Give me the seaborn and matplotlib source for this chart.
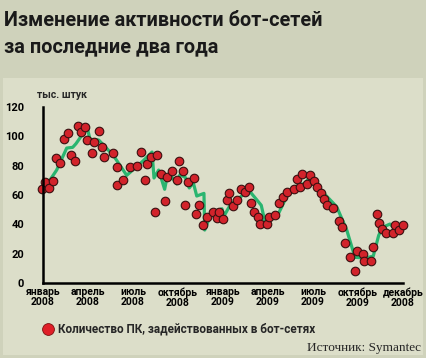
import warnings

warnings.filterwarnings('ignore')

import pandas as pd
import matplotlib
matplotlib.use('Agg')
import matplotlib.pyplot as plt
from matplotlib.patches import Rectangle
from matplotlib.lines import Line2D
import seaborn as sns

# %%
# Points: months since January 2008, thousands of PCs
pc_month = [-0.05, 0.15, 0.42, 0.69, 0.87, 1.13, 1.4, 1.67, 1.85, 2.11,
            2.33, 2.51, 2.78, 2.95, 3.27, 3.4, 3.71, 3.93, 4.07, 4.69,
            4.91, 4.95, 5.31, 5.8, 6.25, 6.55, 6.78, 6.95, 7.18, 7.45,
            7.58, 7.85, 8.11, 8.29, 8.6, 8.91, 9.05, 9.31, 9.49, 9.67,
            10.07, 10.42, 10.2, 10.69, 10.91, 11.35, 11.58, 11.71, 12.02, 12.29,
            12.42, 12.69, 12.91, 13.18, 13.49, 13.75, 13.89, 14.07, 14.33, 14.47,
            14.91, 15.09, 15.49, 15.71, 15.98, 16.29, 16.73, 16.91, 17.13, 17.27,
            17.58, 17.8, 18.07, 18.25, 18.51, 18.73, 18.95, 19.35, 19.71, 19.93,
            20.15, 20.47, 20.91, 20.82, 21.31, 21.4, 21.85, 22.02, 22.25, 22.38,
            22.6, 22.87, 23.31, 23.45, 23.75, 24.02]
pc_value = [63.9, 68.8, 64.8, 69.3, 85, 81.6, 98, 102, 87, 83,
            107.3, 102.7, 106.6, 97.5, 88.8, 96, 103.8, 93, 86, 88.8,
            79.3, 67, 70.2, 79.3, 79.8, 89.3, 70.2, 81.1, 86, 48.4,
            87.5, 74.3, 55.7, 72.5, 76.1, 70.2, 83.4, 76.6, 53, 68.8,
            71.6, 53.4, 47, 39.7, 45.2, 48.4, 44.3, 48.4, 43.8, 56.6,
            61.1, 52.5, 56.6, 64.3, 62, 65.6, 54.7, 48.4, 44.8, 40.2,
            40.2, 44.8, 46.6, 54.7, 58.4, 62, 63.9, 71.1, 65.6, 74.3,
            67.5, 73.4, 69.7, 65.2, 61.6, 57.5, 53.4, 51.1, 42.5, 38.4,
            27, 17.5, 21.6, 8, 19.8, 15.2, 15.2, 24.3, 47, 40.7,
            37, 33.9, 33.9, 39.3, 36.1, 39.7]

# Green trend line
trend_month = [0.02, 0.91, 1.58, 1.98, 2.2, 2.95, 3.13, 3.71, 4.69, 5.58,
               6.69, 7.27, 7.4, 7.71, 8.11, 8.24, 8.51, 8.91, 9.13, 9.49,
               9.75, 10.02, 10.25, 10.73, 10.78, 11.13, 11.58, 11.93, 12.07, 12.47,
               13.13, 13.71, 14.55, 14.82, 15.62, 16.24, 16.91, 17.45, 17.75, 19.58,
               20.25, 20.65, 20.82, 21.53, 22.02, 22.38, 22.65, 23.13, 23.35, 23.8]
trend_value = [63.4, 77, 92, 92.5, 95, 106, 98, 97.5, 87, 73.4,
               83.4, 89.3, 71.6, 77, 63.9, 70.7, 73.4, 67.5, 73.8, 72,
               64.8, 68.4, 59.3, 61.1, 36.1, 45.2, 49.3, 50.6, 45.7, 53,
               58.4, 63.4, 53, 40.7, 45.7, 58.8, 66.1, 68, 71.6, 52,
               36.1, 22.5, 17.5, 17, 18.4, 32.5, 38, 40.2, 38, 39.7]

tick_pos = [0, 3, 6, 9, 12, 15, 18, 21, 24]
tick_labels = ['январь\n2008', 'апрель\n2008', 'июль\n2008', 'октябрь\n2008',
               'январь\n2009', 'апрель\n2009', 'июль\n2009', 'октябрь\n2009',
               'декабрь\n2008']

# %%
sns.set_style('white')
plt.rcParams['font.family'] = ['Roboto', 'DejaVu Sans']
plt.rcParams['font.weight'] = 'bold'

outer_bg = '#cfd2bb'
panel_bg = '#dcdec9'
pt_red = '#d2232b'
line_green = '#2ab570'

fig = plt.figure(figsize=(4.26, 3.58), dpi=100, facecolor=outer_bg)
fig.patches.append(Rectangle((3 / 426, 3 / 358), 420 / 426, 277 / 358,
                             transform=fig.transFigure, facecolor=panel_bg,
                             edgecolor='none', zorder=-5))

ax = fig.add_axes([43 / 426, 75 / 358, 360 / 426, 176 / 358])
ax.set_zorder(2)
ax.set_facecolor('none')

trend = pd.DataFrame({'month': trend_month, 'value': trend_value})
points = pd.DataFrame({'month': pc_month, 'value': pc_value})

sns.lineplot(data=trend, x='month', y='value', color=line_green, lw=2.3,
             ax=ax, zorder=2, sort=False)
sns.scatterplot(data=points, x='month', y='value', color=pt_red, s=38,
                edgecolor='#3a1010', linewidth=0.8, ax=ax, zorder=3, clip_on=False)

ax.set_xlim(0, 24)
ax.set_ylim(0, 120)
ax.set_xticks(tick_pos)
ax.set_xticklabels(tick_labels, fontsize=7.5, linespacing=1.0)
ax.set_yticks(range(0, 121, 20))
ax.set_yticklabels([str(v) for v in range(0, 121, 20)], fontsize=8)
ax.set_xlabel('')
ax.set_ylabel('')

for side in ['top', 'right']:
    ax.spines[side].set_visible(False)
for side in ['left', 'bottom']:
    ax.spines[side].set_linewidth(1.8)
    ax.spines[side].set_color('black')
    ax.spines[side].set_zorder(4)

ax.tick_params(axis='x', direction='in', length=5.5, width=1.6, pad=3, colors='black')
ax.tick_params(axis='y', direction='out', length=5.5, width=1.6, pad=8, colors='black')

# Titles and notes
fig.text(4 / 426, 1 - 11 / 358, 'Изменение активности бот-сетей\nза последние два года',
         fontsize=14.3, fontweight='bold', color='#1a1a1a', va='top', ha='left',
         linespacing=1.5)
fig.text(37 / 426, 1 - 95 / 358, 'тыс. штук', fontsize=7.5, fontweight='bold',
         va='center', ha='left')

# Legend
fig.lines.append(Line2D([48 / 426], [1 - 329 / 358], transform=fig.transFigure,
                        marker='o', markersize=8.5, color='#e01f28',
                        markeredgecolor='#7a1010', markeredgewidth=0.6, linestyle='none'))
fig.text(58 / 426, 1 - 329 / 358, 'Количество ПК, задействованных в бот-сетях',
         fontsize=8.5, fontweight='bold', va='center', ha='left')
fig.text(421 / 426, 1 - 348 / 358, 'Источник: Symantec', fontsize=9.5,
         fontweight='normal', family=['Liberation Serif', 'DejaVu Serif'],
         va='center', ha='right')

fig.savefig('out.png', dpi=100, facecolor=outer_bg)
